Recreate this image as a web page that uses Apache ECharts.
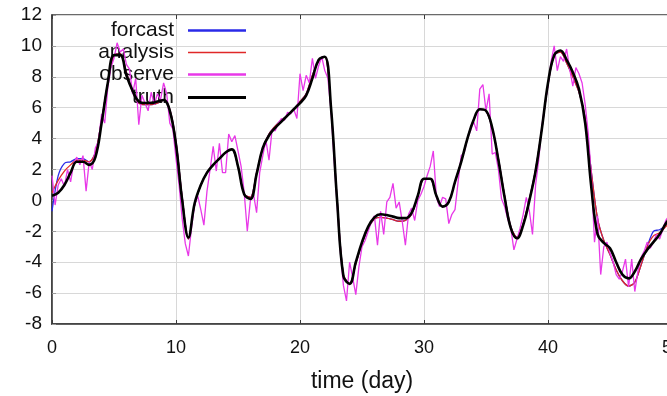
<!DOCTYPE html>
<html>
<head>
<meta charset="utf-8">
<script src="https://cdn.jsdelivr.net/npm/echarts@6/dist/echarts.min.js"></script>
<style>
  html, body { margin: 0; padding: 0; background: #fff; }
  #chart { width: 667px; height: 396px; }
</style>
</head>
<body>
<div id="chart"></div>
<script>
// Sampling intervals (days)
const MODEL_STEP = 0.5;
const OBS_STEP = 0.25;

// Model trajectories, one value every MODEL_STEP days from day 0 to day 50
const truth = [
  0.3, 0.5, 1.0, 1.8, 2.5, 2.5, 2.3, 2.8, 5.0, 7.6,
  9.4, 9.4, 8.1, 7.1, 6.4, 6.3, 6.3, 6.4, 6.5, 5.8,
  3.6, 0.0, -2.4, -0.2, 1.0, 1.8, 2.3, 2.7, 3.1, 3.3,
  2.2, 0.4, 0.1, 1.7, 3.4, 4.2, 4.7, 5.1, 5.5, 5.9,
  6.3, 6.8, 7.9, 9.1, 9.3, 6.0, -0.1, -4.9, -5.4, -4.0,
  -2.7, -1.7, -1.1, -0.9, -0.95, -1.05, -1.15, -1.15, -0.8, 0.3,
  1.4, 1.4, 0.3, -0.4, -0.1, 1.2, 2.5, 4.0, 5.2, 5.9,
  5.8, 4.7, 2.6, 0.2, -1.8, -2.45, -1.6, 0.0, 1.9, 4.6,
  7.6, 9.4, 9.7, 9.1, 8.3, 7.2, 5.0, 0.8, -2.2, -2.75,
  -3.1, -4.0, -4.8, -5.05, -4.6, -3.8, -3.2, -2.7, -2.2, -1.5,
  -1.0
];

const analysis = [
  0.5, 1.3, 1.9, 2.3, 2.6, 2.6, 2.5, 3.1, 5.2, 7.6,
  9.4, 9.5, 8.3, 7.0, 6.3, 6.2, 6.2, 6.3, 6.5, 5.9,
  3.8, 0.2, -2.5, -0.3, 1.0, 1.8, 2.3, 2.7, 3.1, 3.3,
  2.2, 0.4, 0.2, 1.8, 3.4, 4.3, 4.8, 5.2, 5.5, 5.9,
  6.4, 6.9, 8.1, 9.0, 9.3, 6.0, 0.0, -4.8, -5.4, -4.1,
  -2.8, -1.8, -1.2, -1.1, -1.15, -1.25, -1.35, -1.3, -0.9, 0.3,
  1.4, 1.4, 0.3, -0.4, -0.1, 1.2, 2.5, 4.0, 5.2, 5.9,
  5.8, 4.7, 2.7, 0.3, -1.7, -2.4, -1.5, 0.1, 2.0, 4.6,
  7.5, 9.4, 9.6, 8.9, 8.0, 7.0, 5.3, 1.8, -1.2, -2.6,
  -3.5, -4.5, -5.2, -5.55, -5.3, -4.2, -3.0, -2.3, -2.1, -1.7,
  -1.1
];

const forecast = [
  -0.7, 1.6, 2.4, 2.5, 2.7, 2.7, 2.5, 3.1, 5.2, 7.6,
  9.4, 9.5, 8.3, 7.0, 6.3, 6.2, 6.2, 6.3, 6.5, 5.9,
  3.8, 0.2, -2.5, -0.3, 1.0, 1.8, 2.3, 2.7, 3.1, 3.3,
  2.2, 0.4, 0.2, 1.8, 3.4, 4.3, 4.8, 5.2, 5.5, 5.9,
  6.4, 6.9, 8.1, 9.0, 9.3, 6.0, 0.0, -4.8, -5.4, -4.1,
  -2.8, -1.8, -1.2, -1.1, -1.15, -1.25, -1.35, -1.3, -0.9, 0.3,
  1.4, 1.4, 0.3, -0.4, -0.1, 1.2, 2.5, 4.0, 5.2, 5.9,
  5.8, 4.7, 2.7, 0.3, -1.7, -2.4, -1.5, 0.1, 2.0, 4.6,
  7.5, 9.4, 9.6, 8.9, 8.0, 7.0, 5.3, 1.8, -1.2, -2.6,
  -3.5, -4.5, -5.2, -5.55, -5.3, -4.2, -3.0, -2.0, -1.9, -1.6,
  -1.1
];

// Noisy observations, one every OBS_STEP days from day 0 to day 50
const observe = [
  1.6, -0.3, 1.0, 1.4, 0.9, 2.0, 1.2, 2.4, 2.8, 2.3,
  2.9, 0.6, 2.5, 2.0, 3.4, 3.8, 5.6, 5.0, 7.3, 8.6,
  9.2, 10.2, 9.6, 9.8, 8.8, 8.5, 6.9, 7.9, 4.9, 6.8,
  6.3, 5.8, 7.0, 6.2, 6.9, 6.5, 7.6, 6.9, 5.0, 4.6,
  2.7,
  1.0, -1.2, -2.8, -3.6, -1.8, -0.3, 0.3, -0.6, -1.6, 0.6,
  2.0, 3.5, 1.9, 3.7, 1.8, 1.8, 4.3, 3.8, 4.2, 3.2,
  2.2, 0.5, -2.0, 0.0, 0.4, -0.8, 1.8, 2.9, 3.9, 2.6,
  4.6, 4.5, 5.0, 5.3, 5.2, 5.7, 5.6, 5.9, 5.3, 8.2,
  7.1, 8.1, 7.6, 9.2, 7.9, 8.7, 9.3, 8.4, 7.9, 5.8,
  2.6, -0.4, -3.3, -5.5, -6.5, -4.0, -5.0, -6.1, -4.3, -3.0,
  -2.6, -2.0, -1.4, -1.0, -2.9, -0.7, -2.2, -0.1, 0.2, 1.1,
  -0.5, -0.1, -1.4, -2.9, -0.9, -0.5, -1.3, 0.0, 0.4, 0.9,
  1.6, 2.2, 3.2, 0.2, -0.4, 0.2, 0.1, -1.5, -0.9, -0.6,
  1.2, 2.9, 3.1, 4.0, 4.5, 5.1, 4.5, 7.2, 7.5, 5.8,
  6.9, 3.0, 3.1, 2.0, 0.1, -0.4, -1.2, -1.8, -3.2, -2.5,
  -1.8, -0.9, 0.2, -0.7, -2.2, 1.0, 2.6, 4.8, 6.2, 7.4,
  9.0, 10.0, 8.4, 9.3, 9.0, 9.8, 8.5, 7.4, 8.6, 8.2,
  7.6, 6.2, 4.3, 1.5, -2.7, -1.0, -4.8, -3.0, -2.7, -3.4,
  -4.0, -4.8, -5.1, -4.6, -3.8, -5.6, -3.8, -5.9, -4.6, -3.7,
  -3.3, -2.7, -3.1, -2.7, -2.2, -2.5, -1.9, -1.3, -1.0, -0.8
];

const seriesNames = ['forcast', 'analysis', 'observe', 'truth'];
const seriesColors = ['#2a2ae8', '#e02828', '#e838e8', '#000000'];
const seriesWidths = [1.3, 1.3, 1.3, 2.6];
const legendIconHeights = [2.5, 1.5, 2.5, 3];
const xAxisName = 'time (day)';

function toPairs(values, step) {
  return values.map((v, i) => [i * step, v]);
}

const seriesData = [
  toPairs(forecast, MODEL_STEP),
  toPairs(analysis, MODEL_STEP),
  toPairs(observe, OBS_STEP),
  toPairs(truth, MODEL_STEP)
];
const smoothing = [0.3, 0.3, false, 0.4];

const textFont = '"Liberation Sans", Arial, sans-serif';
const legendRowTops = [20, 42, 64, 87];

const chart = echarts.init(document.getElementById('chart'), null, { renderer: 'canvas' });

const axisCommon = {
  type: 'value',
  min: 0,
  max: 50,
  interval: 10
};

chart.setOption({
  animation: false,
  backgroundColor: '#ffffff',
  grid: {
    left: 52,
    top: 15,
    width: 620,
    height: 309,
    containLabel: false,
    outerBoundsMode: 'none',
    show: true,
    borderColor: '#3a3a3a',
    borderWidth: 1.5,
    backgroundColor: 'transparent'
  },
  legend: seriesNames.map((name, i) => ({
    data: [name],
    right: 421,
    top: legendRowTops[i],
    padding: 0,
    align: 'right',
    icon: 'rect',
    itemWidth: 58,
    itemHeight: legendIconHeights[i],
    selectedMode: false,
    textStyle: {
      fontFamily: textFont,
      fontSize: 21,
      color: '#111',
      padding: [0, 9, 0, 0]
    }
  })),
  xAxis: [
    Object.assign({}, axisCommon, {
      position: 'bottom',
      name: xAxisName,
      nameLocation: 'middle',
      nameGap: 46,
      nameTextStyle: { fontFamily: textFont, fontSize: 23, color: '#111' },
      axisLine: { show: true, onZero: false, lineStyle: { color: '#3a3a3a', width: 1.5 } },
      axisTick: { show: true, inside: true, length: 4, lineStyle: { color: '#3a3a3a' } },
      axisLabel: { fontFamily: textFont, fontSize: 18, color: '#111', margin: 15 },
      splitLine: { show: true, lineStyle: { color: '#d8d8d8', width: 1 } }
    }),
    Object.assign({}, axisCommon, {
      position: 'top',
      axisLine: { show: false, onZero: false },
      axisTick: { show: true, inside: true, length: 4, lineStyle: { color: '#3a3a3a' } },
      axisLabel: { show: false },
      splitLine: { show: false }
    })
  ],
  yAxis: {
    type: 'value',
    min: -8,
    max: 12,
    interval: 2,
    axisLine: { show: true, onZero: false, lineStyle: { color: '#3a3a3a', width: 1.5 } },
    axisTick: { show: true, inside: true, length: 4, lineStyle: { color: '#999' } },
    axisLabel: { fontFamily: textFont, fontSize: 19, color: '#111', margin: 10 },
    splitLine: { show: true, lineStyle: { color: '#d8d8d8', width: 1 } }
  },
  series: seriesNames.map((name, i) => ({
    name: name,
    type: 'line',
    xAxisIndex: 0,
    data: seriesData[i],
    smooth: smoothing[i],
    showSymbol: false,
    symbol: 'none',
    color: seriesColors[i],
    lineStyle: { color: seriesColors[i], width: seriesWidths[i] },
    z: 2 + i
  }))
});
</script>
</body>
</html>
